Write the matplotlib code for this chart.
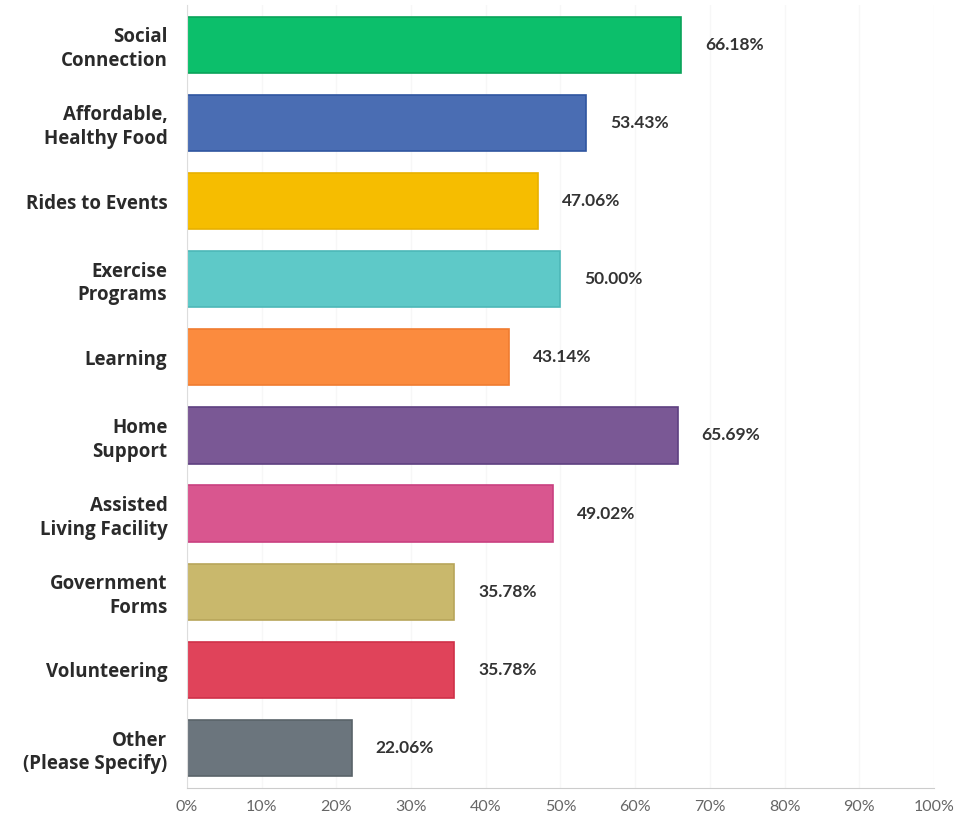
import matplotlib.pyplot as plt
from matplotlib.ticker import PercentFormatter

categories = ["Social\nConnection", "Affordable,\nHealthy Food", "Rides to Events",
              "Exercise\nPrograms", "Learning", "Home\nSupport",
              "Assisted\nLiving Facility", "Government\nForms", "Volunteering",
              "Other\n(Please Specify)"]
values = [66.18, 53.43, 47.06, 50.00, 43.14, 65.69, 49.02, 35.78, 35.78, 22.06]
colors = ["#0cbf6b", "#4a6db3", "#f6bd00", "#5ec9c8", "#fb8b3e",
          "#7a5895", "#d9568f", "#c9b86c", "#e0435a", "#6b757d"]
edges = ["#0aa35a", "#2f55a0", "#e8b000", "#4cb8b8", "#f07c30",
         "#5e4080", "#c94080", "#b8a55a", "#d03048", "#5a6369"]

fig = plt.figure(figsize=(9.58, 8.25), dpi=100)
ax = fig.add_axes([0.195, 0.045, 0.78, 0.949])

ypos = range(len(categories))
ax.barh(ypos, values, height=0.72, color=colors, edgecolor=edges, linewidth=1.2, zorder=2)

for y, v in zip(ypos, values):
    ax.text(v + 3.2, y, f"{v:.2f}%", va="center", ha="left",
            fontsize=12.5, fontweight="bold", color="#333333", family="Lato")

ax.set_xlim(0, 100)
ax.set_ylim(9.51, -0.51)
ax.set_yticks(list(ypos))
ax.set_yticklabels(categories, fontsize=13.5, fontweight="bold", color="#2a2a2a",
                   family="Open Sans", linespacing=1.25)
ax.set_xticks(range(0, 101, 10))
ax.xaxis.set_major_formatter(PercentFormatter(decimals=0))
for lbl in ax.get_xticklabels():
    lbl.set_family("Lato")
    lbl.set_color("#666666")
    lbl.set_fontsize(11.5)
ax.tick_params(axis="y", length=0, pad=14)
ax.tick_params(axis="x", length=0, pad=9)

ax.grid(axis="x", color="#f7f7f7", linewidth=1, zorder=0)
for side in ["top", "right"]:
    ax.spines[side].set_visible(False)
ax.spines["left"].set_color("#dddddd")
ax.spines["bottom"].set_color("#cccccc")

plt.savefig("out.png", dpi=100)
